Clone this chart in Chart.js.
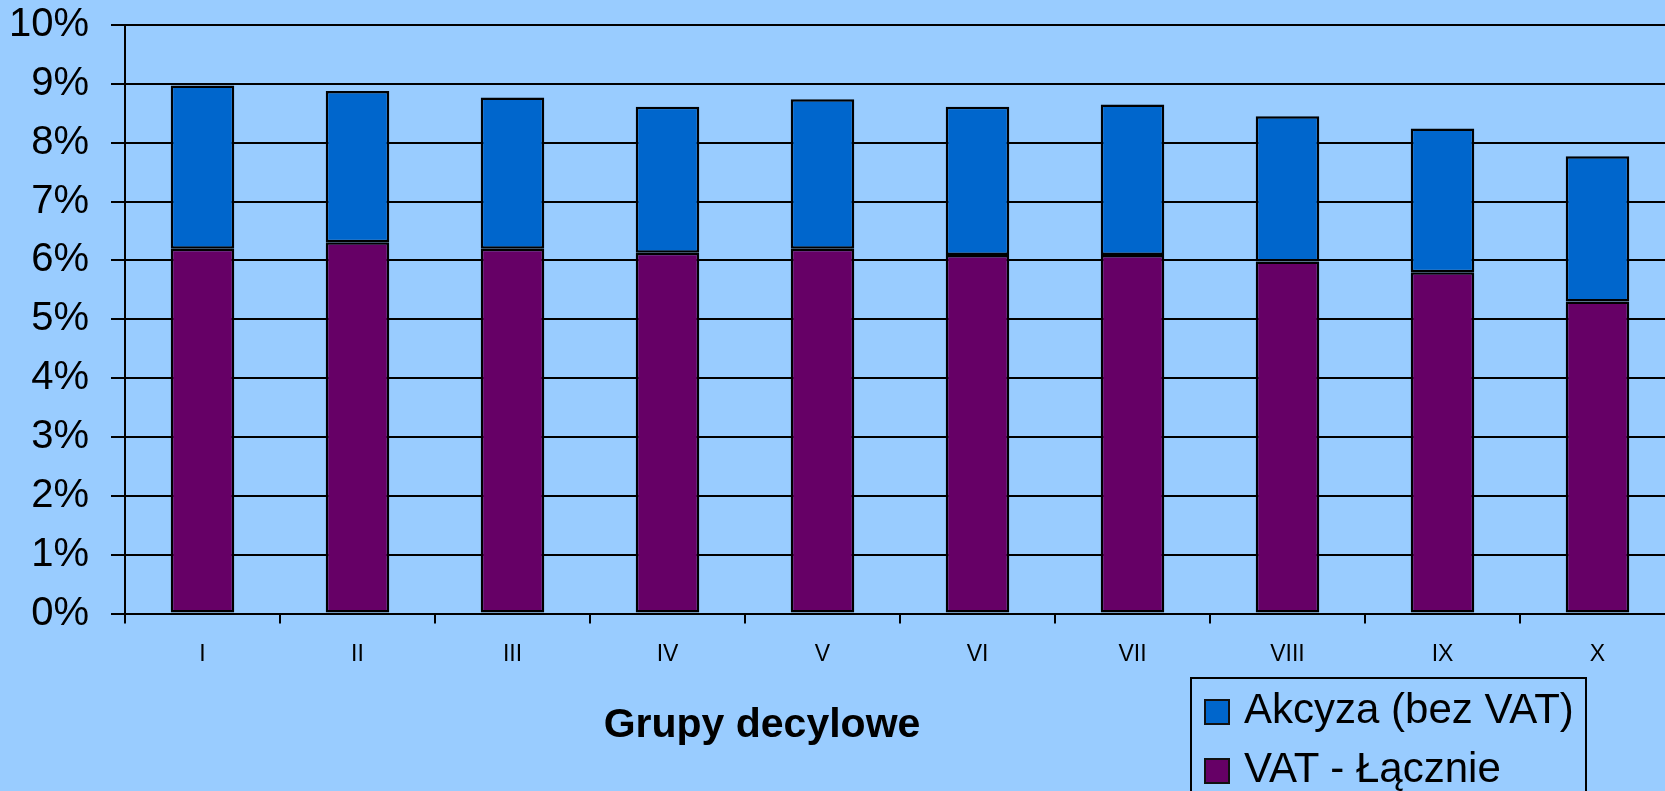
<!DOCTYPE html>
<html>
<head>
<meta charset="utf-8">
<script src="https://cdn.jsdelivr.net/npm/chart.js@4"></script>
<style>
  body { margin: 0; background: #99CCFF; overflow: hidden; font-family: "Liberation Sans", Arial, sans-serif; }
  #wrap { position: relative; width: 1665px; height: 791px; overflow: hidden; }
  #tytul { position: absolute; left: 562px; top: 703px; width: 400px; text-align: center;
           font-weight: bold; font-size: 41px; line-height: 41px; color: #000; }
  #legenda { position: absolute; left: 1190px; top: 677px; width: 393px; height: 200px;
             border: 2px solid #000; }
  .kwadrat { position: absolute; left: 12px; width: 22px; height: 22px; border: 2px solid #111; }
  .opis { position: absolute; left: 52px; font-size: 42px; line-height: 42px; color: #000; white-space: nowrap; }
</style>
</head>
<body>
<div id="wrap">
  <canvas id="wykres" width="1680" height="791"></canvas>
  <div id="tytul">Grupy decylowe</div>
  <div id="legenda">
    <div class="kwadrat" style="top:20px; background:#0066CC"></div>
    <div class="opis" style="top:9px">Akcyza (bez VAT)</div>
    <div class="kwadrat" style="top:79px; background:#660066"></div>
    <div class="opis" style="top:68px">VAT - Łącznie</div>
  </div>
</div>
<script>
// Grupy decylowe
const grupy = ['I', 'II', 'III', 'IV', 'V', 'VI', 'VII', 'VIII', 'IX', 'X'];

// udział w wydatkach (%)
const vatLacznie = [6.20, 6.31, 6.20, 6.13, 6.20, 6.09, 6.09, 5.98, 5.80, 5.30];
const akcyza = [2.77, 2.57, 2.57, 2.48, 2.54, 2.52, 2.56, 2.47, 2.44, 2.47];

const czcionka = '"Liberation Sans", Arial, sans-serif';

const ctx = document.getElementById('wykres').getContext('2d');
const myChart = new Chart(ctx, {
  type: 'bar',
  data: {
    labels: grupy,
    datasets: [
      {
        label: 'VAT - Łącznie',
        data: vatLacznie,
        backgroundColor: '#660066',
        borderColor: '#000000',
        borderWidth: 2.5,
        borderSkipped: false
      },
      {
        label: 'Akcyza (bez VAT)',
        data: akcyza,
        backgroundColor: '#0066CC',
        borderColor: '#000000',
        borderWidth: 2.5,
        borderSkipped: false
      }
    ]
  },
  options: {
    responsive: false,
    animation: false,
    layout: {
      padding: { top: 25, left: 0, right: 5, bottom: 0 }
    },
    datasets: {
      bar: {
        barPercentage: 1,
        categoryPercentage: 0.41
      }
    },
    plugins: {
      legend: { display: false },
      tooltip: { enabled: false }
    },
    scales: {
      x: {
        stacked: true,
        grid: {
          offset: true,
          drawOnChartArea: false,
          drawTicks: true,
          tickLength: 10,
          color: '#000000',
          lineWidth: 2
        },
        border: { display: true, color: '#000000', width: 2 },
        ticks: {
          color: '#000000',
          padding: 17,
          font: { family: czcionka, size: 23 }
        },
        afterFit: function (scale) {
          scale.height = 177.5;
          scale.paddingLeft = 0;
          scale.paddingRight = 0;
        }
      },
      y: {
        stacked: true,
        min: 0,
        max: 10,
        grid: {
          color: '#000000',
          lineWidth: 2,
          tickLength: 14
        },
        border: { display: true, color: '#000000', width: 2 },
        ticks: {
          stepSize: 1,
          color: '#000000',
          padding: 22,
          font: { family: czcionka, size: 40 },
          callback: function (v) { return v + '%'; }
        },
        afterFit: function (scale) {
          scale.width = 125;
          scale.paddingTop = 0;
          scale.paddingBottom = 0;
        }
      }
    }
  }
});
</script>
</body>
</html>
